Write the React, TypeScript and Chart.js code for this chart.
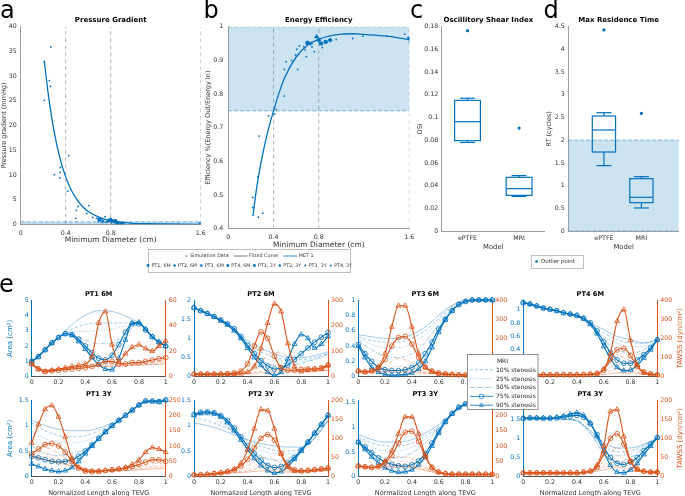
import React, { useEffect, useRef } from 'react';
import { Chart, registerables } from 'chart.js';

Chart.register(...registerables);

const W = 685;
const H = 496;
const FONT = "'DejaVu Sans', sans-serif";
const BLUE = '#0072BD';
const ORANGE = '#D95319';
const BLUE_LIGHT = 'rgba(0,114,189,0.55)';
const ORANGE_LIGHT = 'rgba(217,83,25,0.55)';
const SHADE = 'rgba(0,114,189,0.2)';
const SHADE_LINE = 'rgba(0,114,189,0.5)';
const GUIDE = '#b4b4b4';
const AXIS = '#a0a0a0';
const TEXT = '#333333';

// ================= Panel a : Pressure Gradient =================
const A_X_TICKS = [0, 0.4, 0.8, 1.6];
const A_Y_TICKS = [0, 5, 10, 15, 20, 25, 30, 35, 40];
const A_GUIDES = [0.4, 0.8, 1.6];
const A_MET = [0, 0.5];
const A_SIM_X = [0.21, 0.21, 0.255, 0.264, 0.267, 0.3, 0.347, 0.35, 0.353, 0.418, 0.427, 0.49, 0.495, 0.51, 0.587, 0.607, 0.64, 0.675, 0.69, 0.7, 0.72, 0.73, 0.75, 0.76, 0.78, 0.8, 0.81, 0.82, 0.84, 0.85, 0.9, 1.0, 1.2, 1.4, 1.6];
const A_SIM_Y = [32.9, 25.1, 29.1, 27.9, 35.9, 10.05, 9.4, 10.5, 11.5, 6.7, 13.9, 1.2, 2.8, 3.6, 2.2, 3.8, 1.4, 1.2, 0.5, 0.9, 1.1, 0.6, 1.55, 0.4, 0.8, 1.1, 0.3, 0.7, 0.9, 0.4, 0.2, 0.1, 0.05, 0.05, 0.1];
const A_FIT_X = [0.21, 0.25, 0.3, 0.35, 0.4, 0.45, 0.5, 0.55, 0.6, 0.7, 0.8, 0.9, 1.0, 1.2, 1.4, 1.6];
const A_FIT_Y = [33.0, 25.5, 18.4, 13.3, 9.6, 6.9, 5.0, 3.6, 2.6, 1.4, 0.7, 0.4, 0.2, 0.1, 0.05, 0.0];
const A_PT_X = [0.7, 0.8, 0.73, 0.86, 0.84, 0.9, 0.78, 1.6];
const A_PT_Y = [1.0, 0.9, 0.6, 0.3, 0.6, 0.15, 0.7, 0.1];

// ================= Panel b : Energy Efficiency =================
const B_X_TICKS = [0, 0.4, 0.8, 1.6];
const B_Y_TICKS = [0.4, 0.5, 0.6, 0.7, 0.8, 0.9, 1];
const B_GUIDES = [0.4, 0.8, 1.6];
const B_MET = [0.75, 1];
const B_SIM_X = [0.216, 0.216, 0.22, 0.26, 0.267, 0.273, 0.305, 0.356, 0.41, 0.424, 0.495, 0.495, 0.51, 0.56, 0.595, 0.607, 0.613, 0.628, 0.667, 0.68, 0.69, 0.696, 0.71, 0.74, 0.76, 0.78, 0.8, 0.815, 0.83, 0.87, 0.9, 0.954, 1.1, 1.19, 1.4, 1.56, 1.6, 1.6];
const B_SIM_Y = [0.493, 0.463, 0.44, 0.554, 0.434, 0.675, 0.446, 0.735, 0.741, 0.754, 0.794, 0.873, 0.896, 0.9, 0.916, 0.933, 0.873, 0.943, 0.941, 0.931, 0.911, 0.955, 0.952, 0.94, 0.926, 0.97, 0.96, 0.949, 0.938, 0.955, 0.96, 0.962, 0.965, 0.972, 0.972, 0.978, 0.955, 0.968];
const B_FIT_X = [0.22, 0.25, 0.3, 0.35, 0.4, 0.45, 0.5, 0.6, 0.7, 0.8, 0.9, 1.0, 1.1, 1.2, 1.4, 1.6];
const B_FIT_Y = [0.443, 0.52, 0.615, 0.69, 0.75, 0.805, 0.85, 0.91, 0.945, 0.963, 0.973, 0.978, 0.979, 0.977, 0.972, 0.962];
const B_PT_X = [0.7, 0.8, 0.73, 0.86, 0.82, 0.9, 0.78, 1.6];
const B_PT_Y = [0.952, 0.96, 0.95, 0.955, 0.95, 0.96, 0.97, 0.965];

const PATIENTS = ['PT1, 6M', 'PT2, 6M', 'PT3, 6M', 'PT4, 6M', 'PT1, 3Y', 'PT2, 3Y', 'PT3, 3Y', 'PT4, 3Y'];
const PATIENT_MARKER = ['rect', 'rectRot', 'star', 'rect', 'rect', 'rectRot', 'triangle', 'triangleDown'];

// ================= Panels c, d : box plots =================
const MODELS = ['ePTFE', 'MRI'];
const MODEL_POS = [1, 2];
const C_Y_TICKS = [0, 0.02, 0.04, 0.06, 0.08, 0.1, 0.12, 0.14, 0.16, 0.18];
const OSI_MIN = [0.078, 0.0305];
const OSI_Q1 = [0.0796, 0.0314];
const OSI_MED = [0.0963, 0.0373];
const OSI_Q3 = [0.1151, 0.0473];
const OSI_MAX = [0.117, 0.0488];
const OSI_OUT = [0.1765, 0.0907];
const D_Y_TICKS = [0, 0.5, 1, 1.5, 2, 2.5, 3, 3.5, 4, 4.5];
const RT_MIN = [1.44, 0.507];
const RT_Q1 = [1.74, 0.624];
const RT_MED = [2.225, 0.742];
const RT_Q3 = [2.533, 1.153];
const RT_MAX = [2.606, 1.197];
const RT_OUT = [4.43, 2.59];
const RT_LIMIT = [0, 2];

// ================= Panel e : area & TAWSS along TEVG =================
const LENGTH_COARSE = [0, 0.1, 0.2, 0.3, 0.4, 0.5, 0.6, 0.7, 0.8, 0.9, 1];
const LENGTH_FINE = [0, 0.05, 0.1, 0.15, 0.2, 0.25, 0.3, 0.35, 0.4, 0.45, 0.5, 0.55, 0.6, 0.65, 0.7, 0.75, 0.8, 0.85, 0.9, 0.95, 1];
const E_X_TICKS = [0, 0.2, 0.4, 0.6, 0.8, 1];
const STENOSIS = ['MRI', '10% stenosis', '25% stenosis', '50% stenosis', '75% stenosis', '90% stenosis'];
const E_TITLES = ['PT1 6M', 'PT2 6M', 'PT3 6M', 'PT4 6M', 'PT1 3Y', 'PT2 3Y', 'PT3 3Y', 'PT4 3Y'];
const E_AREA_MAX = [5, 2, 1, 1.14, 1.5, 1.5, 1.55, 2];
const E_AREA_TICKS = [[0, 1, 2, 3, 4, 5], [0, 0.5, 1, 1.5, 2], [0, 0.2, 0.4, 0.6, 0.8, 1], [0, 0.2, 0.4, 0.6, 0.8, 1], [0, 0.5, 1, 1.5], [0, 0.5, 1, 1.5], [0, 0.5, 1, 1.5], [0, 0.5, 1, 1.5, 2]];
const E_TAWSS_MAX = [60, 300, 400, 400, 250, 200, 250, 200];
const E_TAWSS_TICKS = [[0, 20, 40, 60], [0, 100, 200, 300], [0, 100, 200, 300, 400], [0, 100, 200, 300, 400], [0, 50, 100, 150, 200, 250], [0, 50, 100, 150, 200], [0, 50, 100, 150, 200, 250], [0, 50, 100, 150, 200]];

// order in each: MRI, 10%, 25%, 50% (coarse grid), 75%, 90% (fine grid)
const PT1_6M_AREA = [
  [1.0, 1.75, 2.55, 3.4, 4.0, 4.3, 4.25, 3.95, 3.5, 2.6, 2.0],
  [1.0, 1.75, 2.55, 3.1, 3.4, 3.5, 3.5, 3.5, 3.45, 2.6, 2.0],
  [1.0, 1.75, 2.55, 2.9, 2.95, 3.0, 3.1, 3.3, 3.4, 2.6, 2.0],
  [1.0, 1.75, 2.55, 2.7, 2.4, 2.15, 2.2, 2.8, 3.4, 2.6, 2.0],
  [1.0, 1.3, 1.75, 2.2, 2.55, 2.8, 2.75, 2.45, 2.0, 1.55, 1.2, 1.1, 1.4, 2.1, 2.9, 3.45, 3.45, 3.05, 2.6, 2.25, 2.0],
  [1.0, 1.3, 1.75, 2.2, 2.55, 2.8, 2.7, 2.3, 1.8, 1.25, 0.8, 0.5, 0.45, 1.2, 2.4, 3.5, 3.55, 3.1, 2.6, 2.25, 2.0],
];
const PT1_6M_TAWSS = [
  [10, 5, 6, 7, 8, 8, 8, 8.5, 9, 9.5, 10],
  [10, 5, 6, 7, 8, 9, 9, 9, 9.5, 10, 11],
  [10, 5, 6, 7, 8, 9.5, 10, 9.5, 10, 11, 12],
  [10, 5, 6, 7, 8.5, 11, 11, 10, 10.5, 12, 13],
  [10, 6, 4, 4.5, 5, 5.5, 6, 6.5, 7, 8, 9.5, 12, 12, 10, 10, 11, 11, 12, 13, 14, 15],
  [10, 6, 4, 5, 6, 7, 8, 9, 10, 16, 42, 51, 25, 12, 18, 23, 25, 22, 20, 24, 28],
];
const PT2_6M_AREA = [
  [1.8, 1.65, 1.45, 1.2, 0.95, 0.75, 0.6, 0.5, 0.5, 0.55, 0.65],
  [1.8, 1.65, 1.45, 1.2, 0.9, 0.65, 0.5, 0.45, 0.45, 0.5, 0.6],
  [1.8, 1.65, 1.45, 1.2, 0.85, 0.55, 0.4, 0.35, 0.4, 0.45, 0.55],
  [1.8, 1.65, 1.45, 1.2, 0.8, 0.45, 0.3, 0.3, 0.35, 0.45, 0.6],
  [1.8, 1.72, 1.65, 1.57, 1.48, 1.38, 1.25, 1.05, 0.82, 0.6, 0.42, 0.28, 0.2, 0.22, 0.3, 0.45, 0.6, 0.75, 0.9, 1.03, 1.15],
  [1.8, 1.72, 1.64, 1.56, 1.46, 1.35, 1.2, 1.0, 0.75, 0.5, 0.3, 0.12, 0.04, 0.12, 0.45, 0.85, 1.1, 1.0, 0.75, 0.85, 1.05],
];
const PT2_6M_TAWSS = [
  [10, 10, 10, 10, 12, 15, 18, 20, 20, 20, 25],
  [10, 10, 10, 10, 15, 22, 28, 25, 22, 22, 28],
  [10, 10, 10, 11, 20, 35, 45, 35, 25, 25, 30],
  [10, 10, 10, 12, 25, 60, 95, 80, 40, 30, 35],
  [10, 10, 10, 10, 10, 12, 15, 22, 50, 120, 175, 150, 80, 35, 25, 25, 28, 30, 30, 35, 45],
  [10, 10, 10, 10, 10, 10, 10, 12, 18, 40, 110, 210, 285, 255, 130, 40, 20, 25, 30, 30, 45],
];
const PT3_6M_AREA = [
  [0.55, 0.52, 0.5, 0.5, 0.55, 0.65, 0.8, 0.93, 1.0, 1.0, 1.0],
  [0.52, 0.47, 0.45, 0.45, 0.5, 0.6, 0.76, 0.92, 0.99, 1.0, 1.0],
  [0.5, 0.42, 0.38, 0.38, 0.43, 0.55, 0.73, 0.9, 0.99, 1.0, 1.0],
  [0.48, 0.35, 0.27, 0.25, 0.3, 0.45, 0.68, 0.88, 0.98, 1.0, 1.0],
  [0.42, 0.3, 0.2, 0.12, 0.09, 0.08, 0.08, 0.09, 0.12, 0.18, 0.3, 0.45, 0.62, 0.75, 0.86, 0.94, 0.98, 1.0, 1.0, 1.0, 1.0],
  [0.4, 0.25, 0.12, 0.06, 0.03, 0.02, 0.02, 0.03, 0.05, 0.1, 0.2, 0.38, 0.58, 0.74, 0.86, 0.94, 0.98, 1.0, 1.0, 1.0, 1.0],
];
const PT3_6M_TAWSS = [
  [30, 25, 25, 25, 22, 18, 15, 12, 10, 8, 8],
  [30, 28, 30, 35, 30, 22, 15, 12, 10, 8, 8],
  [30, 30, 40, 55, 45, 28, 17, 12, 10, 8, 8],
  [30, 32, 55, 95, 75, 40, 20, 13, 10, 8, 8],
  [30, 25, 30, 45, 90, 160, 205, 210, 170, 100, 50, 30, 20, 15, 12, 10, 9, 8, 8, 8, 8],
  [30, 25, 30, 50, 120, 260, 370, 370, 260, 120, 50, 25, 15, 12, 10, 9, 8, 8, 8, 8, 8],
];
const PT4_6M_AREA = [
  [1.1, 1.05, 1.0, 0.95, 0.9, 0.8, 0.7, 0.6, 0.55, 0.5, 0.55],
  [1.1, 1.05, 1.0, 0.95, 0.9, 0.78, 0.65, 0.55, 0.5, 0.5, 0.55],
  [1.1, 1.05, 1.0, 0.95, 0.9, 0.76, 0.6, 0.5, 0.45, 0.45, 0.55],
  [1.1, 1.05, 1.0, 0.95, 0.9, 0.75, 0.55, 0.4, 0.35, 0.4, 0.55],
  [1.1, 1.08, 1.05, 1.02, 1.0, 0.98, 0.95, 0.93, 0.91, 0.87, 0.8, 0.68, 0.52, 0.36, 0.25, 0.2, 0.2, 0.25, 0.33, 0.43, 0.55],
  [1.1, 1.08, 1.05, 1.02, 1.0, 0.98, 0.95, 0.93, 0.91, 0.86, 0.78, 0.64, 0.45, 0.27, 0.14, 0.09, 0.1, 0.17, 0.28, 0.4, 0.55],
];
const PT4_6M_TAWSS = [
  [10, 10, 10, 10, 10, 10, 12, 20, 20, 12, 10],
  [10, 10, 10, 10, 10, 12, 18, 40, 35, 15, 10],
  [10, 10, 10, 10, 10, 13, 25, 70, 55, 18, 10],
  [10, 10, 10, 10, 10, 14, 35, 110, 80, 22, 10],
  [10, 10, 10, 10, 10, 10, 10, 10, 10, 11, 13, 17, 35, 90, 140, 148, 110, 55, 25, 15, 10],
  [10, 10, 10, 10, 10, 10, 10, 10, 10, 11, 12, 16, 40, 120, 290, 350, 190, 60, 20, 12, 10],
];
const PT1_3Y_AREA = [
  [1.1, 1.0, 0.93, 0.9, 0.9, 0.95, 1.05, 1.2, 1.4, 1.48, 1.5],
  [1.05, 0.9, 0.8, 0.78, 0.8, 0.9, 1.02, 1.2, 1.4, 1.48, 1.5],
  [0.9, 0.75, 0.68, 0.66, 0.7, 0.82, 1.0, 1.2, 1.4, 1.48, 1.5],
  [0.6, 0.45, 0.42, 0.45, 0.55, 0.75, 1.0, 1.2, 1.4, 1.48, 1.5],
  [0.4, 0.37, 0.33, 0.3, 0.29, 0.3, 0.33, 0.4, 0.5, 0.62, 0.75, 0.88, 1.0, 1.1, 1.2, 1.3, 1.4, 1.48, 1.48, 1.47, 1.5],
  [0.25, 0.2, 0.15, 0.12, 0.1, 0.12, 0.18, 0.3, 0.45, 0.6, 0.74, 0.87, 0.99, 1.1, 1.2, 1.3, 1.4, 1.48, 1.47, 1.46, 1.5],
];
const PT1_3Y_TAWSS = [
  [60, 55, 45, 35, 25, 20, 20, 20, 22, 25, 28],
  [65, 65, 50, 35, 25, 20, 20, 22, 25, 30, 32],
  [70, 78, 60, 40, 25, 20, 22, 25, 30, 35, 38],
  [75, 95, 75, 45, 25, 20, 22, 28, 35, 42, 45],
  [75, 90, 105, 108, 100, 80, 50, 28, 18, 16, 17, 20, 22, 25, 28, 33, 40, 48, 55, 55, 50],
  [110, 170, 220, 232, 195, 130, 60, 30, 20, 18, 18, 20, 22, 25, 30, 40, 55, 80, 95, 90, 80],
];
const PT2_3Y_AREA = [
  [1.05, 1.0, 0.92, 0.82, 0.72, 0.65, 0.6, 0.58, 0.58, 0.75, 1.1],
  [1.15, 1.1, 1.0, 0.88, 0.72, 0.6, 0.52, 0.5, 0.55, 0.75, 1.1],
  [1.2, 1.2, 1.05, 0.88, 0.68, 0.52, 0.45, 0.45, 0.52, 0.75, 1.1],
  [1.22, 1.25, 1.12, 0.85, 0.6, 0.4, 0.32, 0.35, 0.5, 0.78, 1.15],
  [1.22, 1.26, 1.27, 1.25, 1.2, 1.1, 0.95, 0.78, 0.6, 0.45, 0.32, 0.22, 0.18, 0.2, 0.27, 0.38, 0.52, 0.68, 0.85, 1.02, 1.2],
  [1.2, 1.24, 1.25, 1.23, 1.17, 1.06, 0.9, 0.72, 0.53, 0.36, 0.22, 0.12, 0.07, 0.1, 0.2, 0.34, 0.5, 0.67, 0.85, 1.02, 1.2],
];
const PT2_3Y_TAWSS = [
  [5, 6, 8, 10, 12, 15, 15, 12, 12, 14, 16],
  [5, 6, 8, 11, 15, 22, 22, 15, 13, 15, 17],
  [5, 6, 8, 12, 20, 32, 30, 18, 14, 15, 18],
  [5, 6, 9, 14, 28, 50, 45, 22, 15, 16, 18],
  [5, 5, 6, 8, 10, 13, 18, 28, 45, 75, 100, 110, 95, 60, 30, 18, 15, 16, 18, 20, 22],
  [5, 5, 6, 8, 10, 14, 20, 35, 70, 125, 175, 172, 125, 60, 25, 15, 15, 16, 18, 20, 22],
];
const PT3_3Y_AREA = [
  [0.85, 0.75, 0.7, 0.7, 0.75, 0.88, 1.05, 1.28, 1.45, 1.5, 1.5],
  [0.8, 0.68, 0.62, 0.62, 0.68, 0.82, 1.02, 1.27, 1.45, 1.5, 1.5],
  [0.78, 0.6, 0.52, 0.52, 0.6, 0.76, 1.0, 1.26, 1.45, 1.5, 1.5],
  [0.75, 0.5, 0.38, 0.38, 0.48, 0.68, 0.97, 1.25, 1.45, 1.5, 1.5],
  [0.7, 0.6, 0.48, 0.38, 0.3, 0.25, 0.22, 0.21, 0.24, 0.32, 0.47, 0.68, 0.92, 1.12, 1.28, 1.4, 1.47, 1.5, 1.5, 1.5, 1.5],
  [0.7, 0.55, 0.4, 0.28, 0.18, 0.12, 0.09, 0.1, 0.14, 0.24, 0.4, 0.62, 0.88, 1.1, 1.27, 1.4, 1.47, 1.5, 1.5, 1.5, 1.5],
];
const PT3_3Y_TAWSS = [
  [35, 30, 30, 32, 30, 20, 12, 8, 8, 8, 8],
  [35, 30, 32, 40, 35, 22, 12, 8, 8, 8, 8],
  [35, 30, 35, 50, 45, 25, 13, 8, 8, 8, 8],
  [35, 30, 40, 65, 60, 30, 14, 8, 8, 8, 8],
  [35, 32, 30, 33, 45, 70, 110, 145, 148, 115, 65, 30, 15, 10, 8, 8, 8, 8, 8, 8, 8],
  [35, 32, 30, 35, 50, 85, 140, 195, 195, 140, 70, 30, 15, 10, 8, 8, 8, 8, 8, 8, 8],
];
const PT4_3Y_AREA = [
  [1.52, 1.52, 1.52, 1.5, 1.45, 1.2, 0.9, 0.75, 0.75, 0.85, 1.0],
  [1.52, 1.52, 1.52, 1.5, 1.45, 1.15, 0.8, 0.65, 0.68, 0.82, 1.0],
  [1.52, 1.52, 1.52, 1.5, 1.45, 1.12, 0.7, 0.55, 0.6, 0.8, 1.0],
  [1.52, 1.52, 1.52, 1.5, 1.48, 1.15, 0.6, 0.4, 0.5, 0.75, 1.0],
  [1.52, 1.53, 1.53, 1.52, 1.52, 1.53, 1.55, 1.58, 1.6, 1.55, 1.38, 1.1, 0.78, 0.5, 0.35, 0.32, 0.38, 0.5, 0.68, 0.85, 1.02],
  [1.52, 1.53, 1.53, 1.53, 1.53, 1.55, 1.58, 1.63, 1.67, 1.6, 1.4, 1.05, 0.65, 0.3, 0.12, 0.1, 0.18, 0.35, 0.58, 0.8, 1.02],
];
const PT4_3Y_TAWSS = [
  [10, 10, 10, 10, 10, 12, 18, 25, 18, 13, 12],
  [10, 10, 10, 10, 10, 12, 25, 40, 25, 14, 12],
  [10, 10, 10, 10, 10, 12, 30, 55, 35, 15, 12],
  [10, 10, 10, 10, 10, 12, 40, 75, 45, 17, 12],
  [10, 10, 10, 10, 10, 10, 10, 10, 10, 12, 14, 25, 60, 100, 112, 85, 40, 20, 14, 12, 12],
  [10, 10, 10, 10, 10, 10, 10, 10, 10, 12, 15, 30, 80, 170, 175, 105, 40, 18, 14, 12, 12],
];
const E_AREA = [PT1_6M_AREA, PT2_6M_AREA, PT3_6M_AREA, PT4_6M_AREA, PT1_3Y_AREA, PT2_3Y_AREA, PT3_3Y_AREA, PT4_3Y_AREA];
const E_TAWSS = [PT1_6M_TAWSS, PT2_6M_TAWSS, PT3_6M_TAWSS, PT4_6M_TAWSS, PT1_3Y_TAWSS, PT2_3Y_TAWSS, PT3_3Y_TAWSS, PT4_3Y_TAWSS];

// ================= styles & layout =================
const SERIES_STYLE: any[] = [
  { dash: [], marker: null },
  { dash: [3, 2], marker: null },
  { dash: [1, 1.5], marker: null },
  { dash: [4, 1.5, 1, 1.5], marker: null },
  { dash: [], marker: 'circle' },
  { dash: [], marker: 'triangle' },
];
const E_COL_X = [31.7, 194, 358.3, 523.3];
const E_ROW_Y = [300, 400];
const E_W = 134;
const E_H = 76.7;

const fmt = (v: number) => String(Math.round(v * 10000) / 10000);

function linAxis(o: any) {
  return {
    type: 'linear',
    position: o.position,
    min: o.min,
    max: o.max,
    afterBuildTicks: (s: any) => {
      s.ticks = o.ticks.map((v: number) => ({ value: v }));
    },
    afterFit: (s: any) => {
      if (o.position === 'bottom') s.height = o.size;
      else s.width = o.size;
    },
    ticks: {
      autoSkip: false,
      maxRotation: 0,
      minRotation: 0,
      padding: o.pad ?? 3,
      color: o.color ?? TEXT,
      font: { family: FONT, size: o.fontSize ?? 6.3 },
      callback: (v: number, i: number) => (o.labels ? o.labels[i] : fmt(v)),
    },
    grid: { display: false, drawTicks: false },
    border: { display: true, color: o.lineColor ?? AXIS, width: 1 },
    title: o.title
      ? { display: true, text: o.title, color: o.titleColor ?? TEXT, font: { family: FONT, size: o.titleSize ?? 6.5 }, padding: 0 }
      : { display: false },
  };
}

function baseOptions(area: number[], lw: number, rw: number, bh: number, scales: any) {
  return {
    responsive: false,
    animation: false,
    devicePixelRatio: 1,
    events: [],
    layout: { padding: { left: area[0] - lw, top: area[1], right: W - area[2] - rw, bottom: H - area[3] - bh } },
    scales,
    plugins: { legend: { display: false }, tooltip: { enabled: false } },
  };
}

function titlePlugin(text: string, size: number, gap: number, dx = 0) {
  return {
    id: 'ptitle',
    afterDraw(chart: any) {
      const { ctx, chartArea } = chart;
      ctx.save();
      ctx.font = `bold ${size}px ${FONT}`;
      ctx.fillStyle = '#000';
      ctx.textAlign = 'center';
      ctx.textBaseline = 'alphabetic';
      ctx.fillText(text, (chartArea.left + chartArea.right) / 2 + dx, chartArea.top - gap);
      ctx.restore();
    },
  };
}

function sideLabelPlugin(text: string, x: number, color: string, size: number) {
  return {
    id: 'sideLabel',
    afterDraw(chart: any) {
      const { ctx, chartArea } = chart;
      ctx.save();
      ctx.translate(x, (chartArea.top + chartArea.bottom) / 2);
      ctx.rotate(-Math.PI / 2);
      ctx.font = `${size}px ${FONT}`;
      ctx.fillStyle = color;
      ctx.textAlign = 'center';
      ctx.textBaseline = 'middle';
      ctx.fillText(text, 0, 0);
      ctx.restore();
    },
  };
}

function drawMarker(ctx: any, style: string, x: number, y: number, r: number, color: string, filled: boolean) {
  ctx.save();
  ctx.beginPath();
  ctx.strokeStyle = color;
  ctx.fillStyle = color;
  ctx.lineWidth = 0.7;
  if (style === 'circle' || style === 'dot') ctx.arc(x, y, r, 0, Math.PI * 2);
  else if (style === 'rect') ctx.rect(x - r * 0.8, y - r * 0.8, r * 1.6, r * 1.6);
  else if (style === 'rectRot') {
    ctx.moveTo(x, y - r); ctx.lineTo(x + r, y); ctx.lineTo(x, y + r); ctx.lineTo(x - r, y); ctx.closePath();
  } else if (style === 'triangle') {
    ctx.moveTo(x, y - r); ctx.lineTo(x + r * 0.87, y + r * 0.5); ctx.lineTo(x - r * 0.87, y + r * 0.5); ctx.closePath();
  } else if (style === 'triangleDown') {
    ctx.moveTo(x, y + r); ctx.lineTo(x + r * 0.87, y - r * 0.5); ctx.lineTo(x - r * 0.87, y - r * 0.5); ctx.closePath();
  } else if (style === 'star') {
    for (let k = 0; k < 4; k++) {
      const a = (k * Math.PI) / 4;
      ctx.moveTo(x + Math.cos(a) * r, y + Math.sin(a) * r);
      ctx.lineTo(x - Math.cos(a) * r, y - Math.sin(a) * r);
    }
    ctx.stroke();
    ctx.restore();
    return;
  }
  if (filled) ctx.fill();
  else ctx.stroke();
  ctx.restore();
}

function legendABPlugin() {
  return {
    id: 'legendAB',
    afterDraw(chart: any) {
      const ctx = chart.ctx;
      const box = [148, 249, 350, 272];
      ctx.save();
      ctx.fillStyle = '#fff';
      ctx.fillRect(box[0], box[1], box[2] - box[0], box[3] - box[1]);
      ctx.strokeStyle = '#b0b0b0';
      ctx.lineWidth = 0.8;
      ctx.strokeRect(box[0] + 0.5, box[1] + 0.5, box[2] - box[0], box[3] - box[1]);
      ctx.font = `4.8px ${FONT}`;
      ctx.textBaseline = 'middle';
      ctx.textAlign = 'left';
      const rows: any[] = [
        {
          y: 256,
          gap: 5,
          items: [
            { kind: 'dot', label: 'Simulation Data' },
            { kind: 'line', color: '#555', label: 'Fitted Curve' },
            { kind: 'line', color: BLUE, label: 'MET 1' },
          ],
        },
        { y: 265.5, gap: 2, items: PATIENTS.map((p, i) => ({ kind: 'marker', marker: PATIENT_MARKER[i], label: p })) },
      ];
      rows.forEach((row) => {
        const sw = (it: any) => (it.kind === 'line' ? 14 : 4);
        const widths = row.items.map((it: any) => sw(it) + 1.5 + ctx.measureText(it.label).width);
        const total = widths.reduce((a: number, b: number) => a + b, 0) + row.gap * (row.items.length - 1);
        let x = (box[0] + box[2]) / 2 - total / 2;
        row.items.forEach((it: any, i: number) => {
          if (it.kind === 'line') {
            ctx.beginPath();
            ctx.strokeStyle = it.color;
            ctx.lineWidth = 0.8;
            ctx.moveTo(x, row.y);
            ctx.lineTo(x + 14, row.y);
            ctx.stroke();
          } else if (it.kind === 'dot') {
            drawMarker(ctx, 'dot', x + 2, row.y, 0.8, BLUE, true);
          } else {
            drawMarker(ctx, it.marker, x + 2, row.y, 1.6, BLUE, true);
          }
          ctx.fillStyle = '#333';
          ctx.fillText(it.label, x + sw(it) + 1.5, row.y);
          x += widths[i] + row.gap;
        });
      });
      ctx.restore();
    },
  };
}

function outlierLegendPlugin() {
  return {
    id: 'legendOut',
    afterDraw(chart: any) {
      const ctx = chart.ctx;
      const box = [531, 255, 583, 268];
      ctx.save();
      ctx.fillStyle = '#fff';
      ctx.fillRect(box[0], box[1], box[2] - box[0], box[3] - box[1]);
      ctx.strokeStyle = '#b0b0b0';
      ctx.lineWidth = 0.8;
      ctx.strokeRect(box[0] + 0.5, box[1] + 0.5, box[2] - box[0], box[3] - box[1]);
      drawMarker(ctx, 'dot', 536.5, 261.5, 1.3, BLUE, true);
      ctx.font = `5.4px ${FONT}`;
      ctx.fillStyle = '#333';
      ctx.textBaseline = 'middle';
      ctx.fillText('Outlier point', 541, 261.8);
      ctx.restore();
    },
  };
}

function legendEPlugin() {
  return {
    id: 'legendE',
    afterDraw(chart: any) {
      const ctx = chart.ctx;
      const box = [467, 354, 538, 409.5];
      const rowsY = [361, 369.8, 378.7, 387.5, 396.4, 405.2];
      ctx.save();
      ctx.fillStyle = '#fff';
      ctx.fillRect(box[0], box[1], box[2] - box[0], box[3] - box[1]);
      ctx.strokeStyle = '#7a7a7a';
      ctx.lineWidth = 0.8;
      ctx.strokeRect(box[0] + 0.5, box[1] + 0.5, box[2] - box[0] - 0.5, box[3] - box[1] - 0.5);
      ctx.font = `6px ${FONT}`;
      ctx.fillStyle = '#262626';
      ctx.textBaseline = 'middle';
      ctx.textAlign = 'center';
      ctx.fillText(STENOSIS[0], (box[0] + box[2]) / 2, rowsY[0]);
      ctx.textAlign = 'left';
      for (let k = 1; k < STENOSIS.length; k++) {
        const st = SERIES_STYLE[k];
        const y = rowsY[k];
        ctx.beginPath();
        ctx.setLineDash(st.dash);
        ctx.strokeStyle = st.marker ? BLUE : BLUE_LIGHT;
        ctx.lineWidth = 0.8;
        ctx.moveTo(box[0] + 3, y);
        ctx.lineTo(box[0] + 26, y);
        ctx.stroke();
        ctx.setLineDash([]);
        if (st.marker) drawMarker(ctx, st.marker, box[0] + 14.5, y, 2.4, BLUE, false);
        ctx.fillStyle = '#262626';
        ctx.fillText(STENOSIS[k], box[0] + 29, y + 0.3);
      }
      ctx.restore();
    },
  };
}

function boxPlotPlugin(mins: number[], q1: number[], med: number[], q3: number[], maxs: number[], boxW: number, capW: number) {
  return {
    id: 'boxplot',
    afterDatasetsDraw(chart: any) {
      const { ctx } = chart;
      const xs = chart.scales.x;
      const ys = chart.scales.y;
      const py = (v: number) => ys.getPixelForValue(v);
      ctx.save();
      ctx.strokeStyle = BLUE;
      ctx.lineWidth = 1.2;
      const seg = (x0: number, y0: number, x1: number, y1: number) => {
        ctx.beginPath();
        ctx.moveTo(x0, y0);
        ctx.lineTo(x1, y1);
        ctx.stroke();
      };
      MODEL_POS.forEach((p, i) => {
        const cx = xs.getPixelForValue(p);
        const hw = xs.getPixelForValue(p + boxW / 2) - cx;
        const cw = xs.getPixelForValue(p + capW / 2) - cx;
        ctx.strokeRect(cx - hw, py(q3[i]), 2 * hw, py(q1[i]) - py(q3[i]));
        seg(cx - hw, py(med[i]), cx + hw, py(med[i]));
        seg(cx, py(q3[i]), cx, py(maxs[i]));
        seg(cx, py(q1[i]), cx, py(mins[i]));
        seg(cx - cw, py(maxs[i]), cx + cw, py(maxs[i]));
        seg(cx - cw, py(mins[i]), cx + cw, py(mins[i]));
      });
      ctx.restore();
    },
  };
}

const pts = (xs: number[], ys: number[]) => xs.map((x, i) => ({ x, y: ys[i] }));

function guideSets(guides: number[], y0: number, y1: number) {
  return guides.map((g) => ({
    data: [{ x: g, y: y0 }, { x: g, y: y1 }],
    borderColor: GUIDE,
    borderDash: [4, 3],
    borderWidth: 1,
    pointRadius: 0,
  }));
}

function bandSets(lo: number, hi: number, x0: number, x1: number) {
  return [
    {
      data: [{ x: x0, y: hi }, { x: x1, y: hi }],
      borderColor: SHADE_LINE,
      borderDash: [4, 2],
      borderWidth: 1,
      pointRadius: 0,
      fill: { target: { value: lo }, above: SHADE, below: SHADE },
    },
    {
      data: [{ x: x0, y: lo }, { x: x1, y: lo }],
      borderColor: SHADE_LINE,
      borderDash: [4, 2],
      borderWidth: 1,
      pointRadius: 0,
    },
  ];
}

function patientSets(xs: number[], ys: number[]) {
  return PATIENTS.map((name, i) => {
    const m = PATIENT_MARKER[i];
    return {
      label: name,
      data: [{ x: xs[i], y: ys[i] }],
      showLine: false,
      pointStyle: m === 'triangleDown' ? 'triangle' : m,
      pointRotation: m === 'triangleDown' ? 180 : 0,
      pointRadius: 2.2,
      pointBackgroundColor: BLUE,
      pointBorderColor: BLUE,
      pointBorderWidth: 0.8,
    };
  });
}

function simSet(xs: number[], ys: number[]) {
  return {
    label: 'Simulation Data',
    data: pts(xs, ys),
    showLine: false,
    pointRadius: 0.9,
    pointBackgroundColor: BLUE,
    pointBorderWidth: 0,
  };
}

function fitSet(xs: number[], ys: number[]) {
  return {
    label: 'Fitted Curve',
    data: pts(xs, ys),
    borderColor: BLUE,
    borderWidth: 1.3,
    pointRadius: 0,
    cubicInterpolationMode: 'monotone',
  };
}

function cfgA() {
  const area = [20.7, 26.7, 200.7, 224.3];
  const lw = 20.4;
  const bh = 20.2;
  return {
    type: 'line',
    data: {
      datasets: [
        fitSet(A_FIT_X, A_FIT_Y),
        ...patientSets(A_PT_X, A_PT_Y),
        simSet(A_SIM_X, A_SIM_Y),
        ...bandSets(A_MET[0], A_MET[1], 0, 1.6),
        ...guideSets(A_GUIDES, 0, 40),
      ],
    },
    options: baseOptions(area, lw, 0, bh, {
      x: linAxis({ position: 'bottom', min: 0, max: 1.6, ticks: A_X_TICKS, size: bh, pad: 5, title: 'Minimum Diameter (cm)', titleSize: 7.5 }),
      y: linAxis({ position: 'left', min: 0, max: 40, ticks: A_Y_TICKS, size: lw, pad: 4, title: 'Pressure gradient (mmHg)' }),
    }),
    plugins: [titlePlugin('Pressure Gradient', 7, 4.5)],
  };
}

function cfgB() {
  const area = [228.3, 26.7, 409.3, 228.7];
  const lw = 23.4;
  const bh = 20.8;
  return {
    type: 'line',
    data: {
      datasets: [
        fitSet(B_FIT_X, B_FIT_Y),
        ...patientSets(B_PT_X, B_PT_Y),
        simSet(B_SIM_X, B_SIM_Y),
        ...bandSets(B_MET[0], B_MET[1], 0, 1.6),
        ...guideSets(B_GUIDES, 0.4, 1),
      ],
    },
    options: baseOptions(area, lw, 0, bh, {
      x: linAxis({ position: 'bottom', min: 0, max: 1.6, ticks: B_X_TICKS, size: bh, pad: 5, title: 'Minimum Diameter (cm)', titleSize: 7.5 }),
      y: linAxis({ position: 'left', min: 0.4, max: 1, ticks: B_Y_TICKS, size: lw, pad: 5, title: 'Efficiency %(Energy Out/Energy In)' }),
    }),
    plugins: [titlePlugin('Energy Efficiency', 7, 4.5), legendABPlugin()],
  };
}

function outlierSet(vals: number[]) {
  return {
    label: 'Outlier point',
    data: pts(MODEL_POS, vals),
    showLine: false,
    pointRadius: 1.6,
    pointBackgroundColor: BLUE,
    pointBorderWidth: 0,
  };
}

function cfgC() {
  const area = [441.7, 26.7, 544.9, 231];
  const lw = 25.1;
  const bh = 20.5;
  return {
    type: 'line',
    data: { datasets: [outlierSet(OSI_OUT)] },
    options: baseOptions(area, lw, 0, bh, {
      x: linAxis({ position: 'bottom', min: 0.5, max: 2.5, ticks: MODEL_POS, labels: MODELS, size: bh, pad: 4, title: 'Model', titleSize: 6.8 }),
      y: linAxis({ position: 'left', min: 0, max: 0.18, ticks: C_Y_TICKS, size: lw, pad: 3.5, title: 'OSI' }),
    }),
    plugins: [titlePlugin('Oscillitory Shear Index', 7, 4.5, -5), boxPlotPlugin(OSI_MIN, OSI_Q1, OSI_MED, OSI_Q3, OSI_MAX, 0.5, 0.29)],
  };
}

function cfgD() {
  const area = [568.3, 26.7, 678.9, 231];
  const lw = 22.9;
  const bh = 20.5;
  return {
    type: 'line',
    data: { datasets: [outlierSet(RT_OUT), ...bandSets(RT_LIMIT[0], RT_LIMIT[1], 0.05, 3)] },
    options: baseOptions(area, lw, 0, bh, {
      x: linAxis({ position: 'bottom', min: 0.05, max: 3, ticks: MODEL_POS, labels: MODELS, size: bh, pad: 4, title: 'Model', titleSize: 6.8 }),
      y: linAxis({ position: 'left', min: 0, max: 4.5, ticks: D_Y_TICKS, size: lw, pad: 3.5, title: 'RT (cycles)' }),
    }),
    plugins: [titlePlugin('Max Residence Time', 7, 4.5, -5), boxPlotPlugin(RT_MIN, RT_Q1, RT_MED, RT_Q3, RT_MAX, 0.62, 0.4), outlierLegendPlugin()],
  };
}

function seriesSets(arr: number[][], axisId: string, color: string, light: string) {
  return arr.map((vals, k) => {
    const st = SERIES_STYLE[k];
    const xs = vals.length === LENGTH_FINE.length ? LENGTH_FINE : LENGTH_COARSE;
    const data = vals.map((y, i) => ({ x: xs[i], y }));
    if (st.marker) {
      return {
        label: STENOSIS[k],
        data,
        yAxisID: axisId,
        borderColor: color,
        borderWidth: 1.1,
        cubicInterpolationMode: 'monotone',
        pointStyle: st.marker,
        pointRadius: st.marker === 'circle' ? 2.4 : 2.9,
        pointBorderColor: color,
        pointBackgroundColor: 'rgba(0,0,0,0)',
        pointBorderWidth: 0.8,
        clip: 4,
      };
    }
    return {
      label: STENOSIS[k],
      data,
      yAxisID: axisId,
      borderColor: light,
      borderWidth: 0.7,
      borderDash: st.dash,
      pointRadius: 0,
      cubicInterpolationMode: 'monotone',
      clip: 2,
    };
  });
}

function cfgE(i: number) {
  const col = i % 4;
  const row = Math.floor(i / 4);
  const area = [E_COL_X[col], E_ROW_Y[row], E_COL_X[col] + E_W, E_ROW_Y[row] + E_H];
  const lw = col === 0 ? 25.9 : 18;
  const rw = col === 3 ? 26.9 : 18;
  const bh = row === 1 ? 20.2 : 12;
  const plugins: any[] = [titlePlugin(E_TITLES[i], 6.6, 4)];
  if (col === 3) plugins.push(sideLabelPlugin('TAWSS (dyn/cm²)', 680, ORANGE, 7));
  if (i === 7) plugins.push(legendEPlugin());
  return {
    type: 'line',
    data: {
      datasets: [
        ...seriesSets(E_TAWSS[i], 'y1', ORANGE, ORANGE_LIGHT).reverse(),
        ...seriesSets(E_AREA[i], 'y', BLUE, BLUE_LIGHT).reverse(),
      ],
    },
    options: baseOptions(area, lw, rw, bh, {
      x: linAxis({ position: 'bottom', min: 0, max: 1, ticks: E_X_TICKS, size: bh, pad: 2, lineColor: '#555', title: row === 1 ? 'Normalized Length along TEVG' : undefined }),
      y: linAxis({ position: 'left', min: 0, max: E_AREA_MAX[i], ticks: E_AREA_TICKS[i], size: lw, color: BLUE, lineColor: BLUE, title: col === 0 ? 'Area (cm²)' : undefined, titleColor: BLUE, titleSize: 7 }),
      y1: linAxis({ position: 'right', min: 0, max: E_TAWSS_MAX[i], ticks: E_TAWSS_TICKS[i], size: rw, color: ORANGE, lineColor: ORANGE }),
    }),
    plugins,
  };
}

const MAKERS: (() => any)[] = [cfgA, cfgB, cfgC, cfgD, ...E_TITLES.map((_, i) => () => cfgE(i))];

function ChartLayer({ make }: { make: () => any }) {
  const ref = useRef<HTMLCanvasElement>(null);
  useEffect(() => {
    const chart = new Chart(ref.current as HTMLCanvasElement, make());
    return () => chart.destroy();
  }, []);
  return <canvas ref={ref} width={W} height={H} style={{ position: 'absolute', left: 0, top: 0, width: W, height: H }} />;
}

const LETTERS: [string, number, number][] = [
  ['a', 0, -2],
  ['b', 203.5, -2],
  ['c', 410, -2],
  ['d', 543.5, -2],
  ['e', -1, 272.4],
];

export default function App() {
  return (
    <div style={{ position: 'absolute', left: 0, top: 0, width: W, height: H, background: '#fff', overflow: 'hidden' }}>
      {MAKERS.map((m, i) => (
        <ChartLayer key={i} make={m} />
      ))}
      {LETTERS.map(([t, x, y]) => (
        <div key={t} style={{ position: 'absolute', left: x, top: y, fontFamily: FONT, fontSize: 24, lineHeight: '24px', color: '#000' }}>
          {t}
        </div>
      ))}
    </div>
  );
}
